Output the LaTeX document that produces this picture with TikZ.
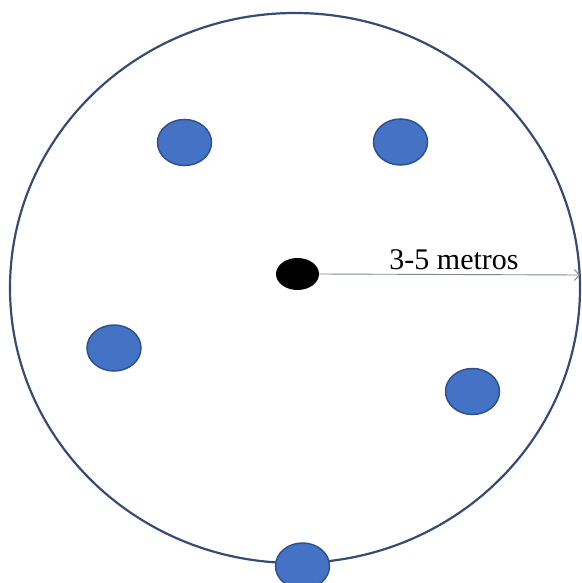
\documentclass[tikz,border=0pt]{standalone}
\usepackage{fontspec}
\setmainfont{Liberation Serif}
\usetikzlibrary{shapes.geometric,arrows.meta}
\definecolor{ringcol}{RGB}{55,75,115}
\definecolor{dotfill}{RGB}{68,114,196}
\definecolor{dotdraw}{RGB}{47,82,143}
\definecolor{arrowcol}{RGB}{125,133,145}
\tikzset{
  ring/.style={ellipse, draw=ringcol, line width=2.2pt, minimum width=570pt, minimum height=550pt, inner sep=0pt},
  bluedot/.style={ellipse, fill=dotfill, draw=dotdraw, line width=1.5pt, minimum width=54pt, minimum height=46pt, inner sep=0pt},
  blackdot/.style={ellipse, fill=black, minimum width=43pt, minimum height=32pt, inner sep=0pt},
  measure/.style={draw=arrowcol, line width=0.9pt, -{Straight Barb[length=5pt,width=11pt]}},
  lbl/.style={font=\fontsize{30}{34}\selectfont, inner sep=0pt}
}
\begin{document}
\begin{tikzpicture}[x=1pt,y=-1pt]
\useasboundingbox (0,0) rectangle (581,583);
\node[ring] (ring) at (295,288) {};
\node[bluedot] (d1) at (184.5,142.5) {};
\node[bluedot] (d2) at (400.5,142) {};
\node[bluedot] (d3) at (114,348) {};
\node[bluedot] (d4) at (472.5,391.5) {};
\node[bluedot] (d5) at (302.5,566) {};
\node[blackdot] (c) at (297.5,274) {};
\coordinate (tip) at (580,275);
\draw[measure] (c.east) -- (tip);
\node[lbl] (t) at (454,260) {3-5 metros};
\end{tikzpicture}
\end{document}
